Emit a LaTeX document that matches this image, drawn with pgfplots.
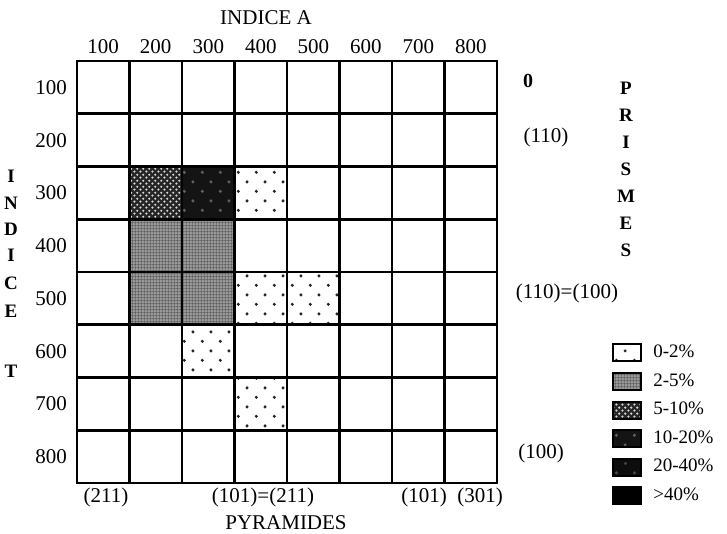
\documentclass[border=0pt]{standalone}
\usepackage{pgfplots}
\pgfplotsset{compat=1.18}
\usepackage{fontspec}
\setmainfont{Liberation Serif}
\usetikzlibrary{patterns,patterns.meta}
\tikzdeclarepattern{
  name=sparsedots, type=uncolored,
  bottom left={(0pt,0pt)}, top right={(9pt,9.4pt)}, tile size={(9pt,9.4pt)},
  code={
    \pgfpathcircle{\pgfpoint{2.25pt}{2.35pt}}{0.85pt}
    \pgfpathcircle{\pgfpoint{6.75pt}{7.05pt}}{0.85pt}
    \pgfusepath{fill}
  }
}
\tikzdeclarepattern{
  name=checkdots, type=uncolored,
  bottom left={(0pt,0pt)}, top right={(2.9pt,2.9pt)}, tile size={(2.9pt,2.9pt)},
  code={
    \pgfpathcircle{\pgfpoint{0.725pt}{0.725pt}}{0.6pt}
    \pgfpathcircle{\pgfpoint{2.175pt}{2.175pt}}{0.6pt}
    \pgfusepath{fill}
  }
}
\tikzdeclarepattern{
  name=finegrid, type=uncolored,
  bottom left={(0pt,0pt)}, top right={(1.6pt,1.6pt)}, tile size={(1.6pt,1.6pt)},
  code={
    \pgfsetlinewidth{0.35pt}
    \pgfpathmoveto{\pgfpoint{0pt}{0.8pt}}\pgfpathlineto{\pgfpoint{1.6pt}{0.8pt}}
    \pgfpathmoveto{\pgfpoint{0.8pt}{0pt}}\pgfpathlineto{\pgfpoint{0.8pt}{1.6pt}}
    \pgfusepath{stroke}
  }
}
\tikzset{
  c1/.style={fill=white, postaction={pattern=sparsedots, pattern color=black!85}},
  c2/.style={fill=black!40, postaction={pattern=finegrid, pattern color=black!65}},
  c3/.style={fill=black!85, postaction={pattern=checkdots, pattern color=white!85!black}},
  c4/.style={fill=black!92, postaction={pattern=sparsedots, pattern color=black!62}},
  c5/.style={fill=black!95, postaction={pattern=sparsedots, pattern color=black!72}},
  c6/.style={fill=black},
}
\begin{document}
\begin{tikzpicture}
\useasboundingbox (-38.5pt,-25.5pt) rectangle (325pt,241.5pt);
\begin{axis}[
  at={(0pt,0pt)}, anchor=south west,
  width=210pt, height=211pt, scale only axis,
  xmin=50, xmax=850, ymin=50, ymax=850, y dir=reverse,
  xtick={100,200,...,800}, ytick={100,200,...,800},
  minor xtick={150,250,...,750}, minor ytick={150,250,...,750},
  xminorgrids, yminorgrids,
  minor grid style={black, line width=1.3pt},
  major tick length=0pt, minor tick length=0pt,
  axis line style={black, line width=1.3pt},
  xticklabel pos=right,
  tick label style={font=\fontsize{10.5}{12}\selectfont},
  /pgf/number format/assume math mode=true,
  /pgf/number format/1000 sep={},
  yticklabel style={xshift=-1.5pt},
  axis on top,
  clip=false,
  legend image code/.code={\draw[#1, draw=black, line width=1pt] (0pt,-4.25pt) rectangle (14pt,4.25pt); \path (20pt,0pt);},
  legend style={draw=none, fill=none, at={(axis cs:1069,585.5)}, anchor=north west,
    inner sep=0pt, outer sep=0pt, row sep=4.8pt,
    font=\fontsize{9.5}{10}\selectfont,
    nodes={inner sep=0pt, text height=6.5pt, text depth=2pt}},
  legend cell align=left,
]
% cells: class 0-2%
\addplot[c1, draw=none, forget plot] coordinates {(350,250) (450,250) (450,350) (350,350)} --cycle;
\addplot[c1, draw=none, forget plot] coordinates {(350,450) (450,450) (450,550) (350,550)} --cycle;
\addplot[c1, draw=none, forget plot] coordinates {(450,450) (550,450) (550,550) (450,550)} --cycle;
\addplot[c1, draw=none, forget plot] coordinates {(250,550) (350,550) (350,650) (250,650)} --cycle;
\addplot[c1, draw=none, forget plot] coordinates {(350,650) (450,650) (450,750) (350,750)} --cycle;
% class 2-5%
\addplot[c2, draw=none, forget plot] coordinates {(150,350) (250,350) (250,450) (150,450)} --cycle;
\addplot[c2, draw=none, forget plot] coordinates {(250,350) (350,350) (350,450) (250,450)} --cycle;
\addplot[c2, draw=none, forget plot] coordinates {(150,450) (250,450) (250,550) (150,550)} --cycle;
\addplot[c2, draw=none, forget plot] coordinates {(250,450) (350,450) (350,550) (250,550)} --cycle;
% class 5-10%
\addplot[c3, draw=none, forget plot] coordinates {(150,250) (250,250) (250,350) (150,350)} --cycle;
% class 10-20%
\addplot[c4, draw=none, forget plot] coordinates {(250,250) (350,250) (350,350) (250,350)} --cycle;
% legend
\addlegendimage{c1}
\addlegendimage{c2}
\addlegendimage{c3}
\addlegendimage{c4}
\addlegendimage{c5}
\addlegendimage{c6}
\legend{0-2\%, 2-5\%, 5-10\%, 10-20\%, 20-40\%, >40\%}
\end{axis}
\begin{scope}[every node/.style={font=\fontsize{10.5}{12}\selectfont, inner sep=0pt}]
\node at (94.5pt,232.5pt) {INDICE A};
\node at (104.5pt,-20pt) {PYRAMIDES};
\node at (14.5pt,-7pt) {(211)};
\node at (93pt,-7pt) {(101)=(211)};
\node at (173.5pt,-7pt) {(101)};
\node at (201.5pt,-7pt) {(301)};
\node[font=\bfseries\fontsize{10}{12}\selectfont] at (225.5pt,201pt) {0};
\node at (234.5pt,173pt) {(110)};
\node at (245pt,95pt) {(110)=(100)};
\node at (232pt,15pt) {(100)};
\end{scope}
\begin{scope}[every node/.style={font=\bfseries\fontsize{9.5}{11}\selectfont, inner sep=0pt}]
\node at (274.5pt,197.5pt) {P};
\node at (274.5pt,184pt) {R};
\node at (274.5pt,170.5pt) {I};
\node at (274.5pt,157pt) {S};
\node at (274.5pt,143.5pt) {M};
\node at (274.5pt,130pt) {E};
\node at (274.5pt,116.5pt) {S};
\node at (-33pt,153.5pt) {I};
\node at (-33pt,140pt) {N};
\node at (-33pt,127pt) {D};
\node at (-33pt,114pt) {I};
\node at (-33pt,100pt) {C};
\node at (-33pt,86pt) {E};
\node at (-33pt,56pt) {T};
\end{scope}
\end{tikzpicture}
\end{document}
